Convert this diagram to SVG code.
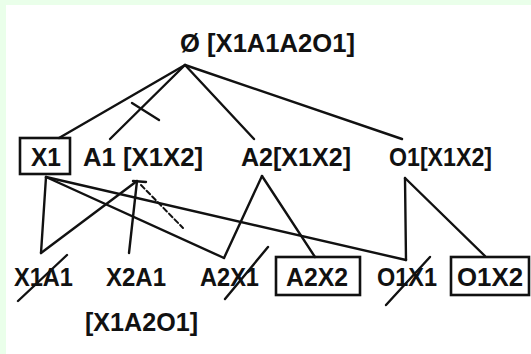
<svg xmlns="http://www.w3.org/2000/svg" width="531" height="354" viewBox="0 0 531 354">
<style>
  .t { font-family: "Liberation Sans", Arial, sans-serif; font-weight: 700; font-size: 25px; fill: #111; }
  .root { font-size: 26px; }
  .e { stroke: #111; stroke-width: 2.4; fill: none; stroke-linecap: round; }
  .box { stroke: #111; stroke-width: 2.6; fill: none; }
  .dash { stroke-dasharray: 5 3; stroke-width: 2; }
</style>
<rect x="0" y="0" width="531" height="354" fill="#ffffff"/>
<rect x="0" y="0" width="531" height="5" fill="#eaffea"/>
<rect x="0" y="0" width="6" height="354" fill="#eaffea"/>

<g id="connectors">
  <line class="e" x1="185" y1="65" x2="59" y2="138"/>
  <line class="e" x1="185" y1="65" x2="110" y2="139"/>
  <line class="e" x1="185" y1="65" x2="254" y2="139"/>
  <line class="e" x1="185" y1="65" x2="402" y2="139"/>
  <line class="e" x1="132" y1="103" x2="159" y2="120"/>

  <line class="e" x1="46" y1="177" x2="41" y2="253"/>
  <line class="e" x1="46" y1="177" x2="224" y2="258"/>
  <line class="e" x1="46" y1="177" x2="406" y2="260"/>

  <line class="e" x1="137" y1="181" x2="41" y2="253"/>
  <line class="e" x1="137" y1="181" x2="129" y2="253"/>
  <line class="e" x1="133" y1="181" x2="146" y2="182" stroke-width="1.5"/>
  <line class="e dash" x1="141" y1="185" x2="183" y2="228"/>

  <line class="e" x1="262" y1="176" x2="224" y2="258"/>
  <line class="e" x1="262" y1="176" x2="315" y2="257"/>

  <line class="e" x1="405" y1="178" x2="406" y2="260"/>
  <line class="e" x1="405" y1="178" x2="485" y2="256"/>

  <line class="e" x1="67" y1="255" x2="18" y2="301"/>
  <line class="e" x1="268" y1="247" x2="225" y2="299"/>
  <line class="e" x1="430" y1="257" x2="386" y2="305"/>
</g>

<g id="root">
  <text class="t root" x="180" y="52" textLength="175" lengthAdjust="spacingAndGlyphs">Ø [X1A1A2O1]</text>
</g>
<g id="X1">
  <rect class="box" x="20" y="138" width="50" height="36"/>
  <text class="t" x="31" y="166" textLength="30" lengthAdjust="spacingAndGlyphs">X1</text>
</g>
<g id="A1">
  <text class="t" x="83" y="166" textLength="120" lengthAdjust="spacingAndGlyphs">A1 [X1X2]</text>
</g>
<g id="A2">
  <text class="t" x="241" y="166" textLength="110" lengthAdjust="spacingAndGlyphs">A2[X1X2]</text>
</g>
<g id="O1">
  <text class="t" x="389" y="166" textLength="103" lengthAdjust="spacingAndGlyphs">O1[X1X2]</text>
</g>
<g id="X1A1">
  <text class="t" x="14" y="286" textLength="59" lengthAdjust="spacingAndGlyphs">X1A1</text>
</g>
<g id="X2A1">
  <text class="t" x="106" y="286" textLength="60" lengthAdjust="spacingAndGlyphs">X2A1</text>
  <text class="t" x="85" y="331" textLength="113" lengthAdjust="spacingAndGlyphs">[X1A2O1]</text>
</g>
<g id="A2X1">
  <text class="t" x="200" y="286" textLength="59" lengthAdjust="spacingAndGlyphs">A2X1</text>
</g>
<g id="A2X2">
  <rect class="box" x="276" y="257" width="84" height="38"/>
  <text class="t" x="286" y="286" textLength="62" lengthAdjust="spacingAndGlyphs">A2X2</text>
</g>
<g id="O1X1">
  <text class="t" x="377" y="286" textLength="60" lengthAdjust="spacingAndGlyphs">O1X1</text>
</g>
<g id="O1X2">
  <rect class="box" x="451" y="257" width="78" height="38"/>
  <text class="t" x="457" y="286" textLength="66" lengthAdjust="spacingAndGlyphs">O1X2</text>
</g>
</svg>
